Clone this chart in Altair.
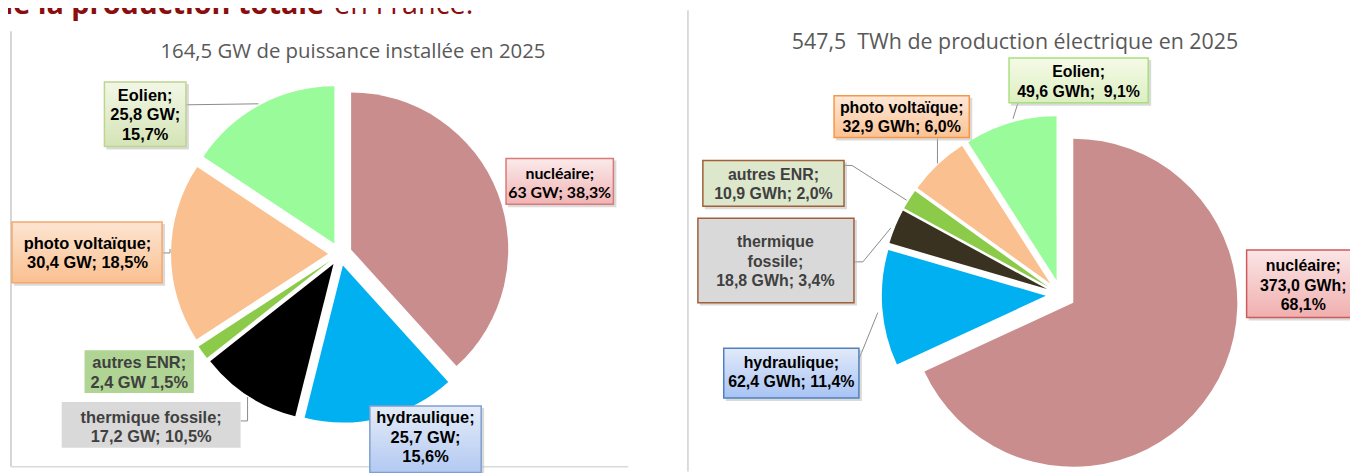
import math
import altair as alt
import pandas as pd

# ---------------- data ----------------
categories = ["nucléaire", "hydraulique", "thermique fossile", "autres ENR", "photo voltaïque", "Eolien"]
power_gw = [63.0, 25.7, 17.2, 2.4, 30.4, 25.8]
energy_twh = [373.0, 62.4, 18.8, 10.9, 32.9, 49.6]

labels_left = [
    "nucléaire;\n63 GW; 38,3%",
    "hydraulique;\n25,7 GW;\n15,6%",
    "thermique fossile;\n17,2 GW; 10,5%",
    "autres ENR;\n2,4 GW 1,5%",
    "photo voltaïque;\n30,4 GW; 18,5%",
    "Eolien;\n25,8 GW;\n15,7%",
]
labels_right = [
    "nucléaire;\n373,0 GWh;\n68,1%",
    "hydraulique;\n62,4 GWh; 11,4%",
    "thermique\nfossile;\n18,8 GWh; 3,4%",
    "autres ENR;\n10,9 GWh; 2,0%",
    "photo voltaïque;\n32,9 GWh; 6,0%",
    "Eolien;\n49,6 GWh;\u00a0 9,1%",
]
title_left = "164,5 GW de puissance installée en 2025"
title_right = "547,5\u00a0 TWh de production électrique en 2025"
heading_bold = "de la production totale"
heading_regular = "en France."

# ---------------- styles / layout ----------------
OX, OY = 8, 8  # page margin
colors_left = ["#CA8D8D", "#00B0F0", "#000000", "#8CCB4A", "#FAC090", "#99FB99"]
colors_right = ["#CA8D8D", "#00B0F0", "#3A3220", "#8CCB4A", "#FAC090", "#99FB99"]

PIE_LEFT = dict(cx=342, cy=254, r=158, d=12)
PIE_RIGHT = dict(cx=1067, cy=295, r=165, d=15)

BOLD_FONT = "Liberation Sans"
LH = 19.5
# box: x0, y0, x1, y1 (page px), text block centre tx, ty, fill stops, stroke, shadow, text colour, font, size
boxes_left = [
    dict(b=(509, 158, 617, 204), t=(563, 183), fill=("#FBEAEA", "#F0B4B4"), stroke="#D87A7A", shadow=True, tc="#000000", font="Lato", size=16),
    dict(b=(372, 407, 484, 474), t=(428, 439), fill=("#E4ECF8", "#B3C9F2"), stroke="#7F9FD0", shadow=True, tc="#000000", font=BOLD_FONT, size=16.5),
    dict(b=(62, 403, 242, 449), t=(152, 428.5), fill=("#D9D9D9", "#D9D9D9"), stroke=None, shadow=False, tc="#404040", font=BOLD_FONT, size=16.5),
    dict(b=(85, 351, 195, 394), t=(140, 374), fill=("#AFD493", "#AFD493"), stroke=None, shadow=False, tc="#404040", font=BOLD_FONT, size=16.5),
    dict(b=(12, 222, 163, 283), t=(88, 253.5), fill=("#FDE5D2", "#FAC090"), stroke="#F5A86A", shadow=True, tc="#000000", font=BOLD_FONT, size=16.5),
    dict(b=(105, 81, 187, 146), t=(146, 114.5), fill=("#F2F7E6", "#D5E4B6"), stroke="#BFD48F", shadow=True, tc="#000000", font=BOLD_FONT, size=16.5),
]
boxes_right = [
    dict(b=(1254, 250, 1372, 318), t=(1311, 286), fill=("#FBE6E6", "#F0AFAF"), stroke="#D05A5A", shadow=True, tc="#000000", font=BOLD_FONT, size=16),
    dict(b=(728, 349, 864, 399), t=(796, 373.5), fill=("#E2EAF9", "#A8C3F4"), stroke="#4F81BD", shadow=True, tc="#000000", font=BOLD_FONT, size=16),
    dict(b=(702, 218, 859, 303), t=(780, 262), fill=("#D9D9D9", "#D9D9D9"), stroke="#A0603A", shadow=True, tc="#404040", font=BOLD_FONT, size=16),
    dict(b=(707, 160, 849, 206), t=(778, 184.5), fill=("#DDE7CB", "#DDE7CB"), stroke="#A0603A", shadow=True, tc="#404040", font=BOLD_FONT, size=16),
    dict(b=(839, 95, 975, 137), t=(907, 117), fill=("#FDE8D8", "#FBC293"), stroke="#F79646", shadow=True, tc="#000000", font=BOLD_FONT, size=16),
    dict(b=(1015, 57, 1155, 102), t=(1085, 81), fill=("#F6FAE8", "#DCEFC0"), stroke="#A8E07E", shadow=True, tc="#000000", font=BOLD_FONT, size=16),
]
leaders = [
    [(187, 104), (260, 103)],
    [(163, 253), (171, 253), (171, 249)],
    [(242, 422), (249, 422), (249, 398)],
    [(1024, 102), (1019, 118)],
    [(943, 137), (943, 163)],
    [(849, 165), (857, 165), (912, 200)],
    [(859, 262), (868, 262), (896, 228)],
    [(864, 360), (883, 313)],
]
frames = [((11, 30), (11, 468), "#C8C8C8"), ((11, 468), (632, 468), "#D6DCD6"), ((692, 9), (692, 473), "#D0D0D0")]

W, H = 1350, 465


def px(v):
    return v - OX


def py(v):
    return v - OY


def pie(values, colors, cx, cy, r, d):
    df = pd.DataFrame({"cat": categories, "val": values, "rank": list(range(len(categories)))})
    return (
        alt.Chart(df)
        .transform_joinaggregate(total="sum(val)")
        .transform_window(cum="sum(val)", sort=[alt.SortField("rank")], frame=[None, 0])
        .transform_calculate(f1="datum.cum / datum.total")
        .transform_calculate(f0="(datum.cum - datum.val) / datum.total")
        .transform_calculate(mid="PI * (datum.f0 + datum.f1)")
        .transform_calculate(cx=f"{px(cx)} + {d} * sin(datum.mid)")
        .transform_calculate(cy=f"{py(cy)} - {d} * cos(datum.mid)")
        .mark_arc(outerRadius=r)
        .encode(
            theta=alt.Theta("f0:Q", scale=alt.Scale(domain=[0, 1], range=[0, 2 * math.pi])),
            theta2="f1:Q",
            x=alt.X("cx:Q", scale=None, axis=None),
            y=alt.Y("cy:Q", scale=None, axis=None),
            color=alt.Color("cat:N", scale=alt.Scale(domain=categories, range=colors), legend=None),
        )
    )


def label_layers(texts, boxes):
    out = []
    for text, bx in zip(texts, boxes):
        x0, y0, x1, y1 = bx["b"]
        if bx["shadow"]:
            sd = pd.DataFrame({"x0": [px(x0) + 2], "x1": [px(x1) + 3], "y0": [py(y0) + 2], "y1": [py(y1) + 3]})
            out.append(
                alt.Chart(sd).mark_rect(fill="#BBBBBB", opacity=0.55).encode(
                    x=alt.X("x0:Q", scale=None, axis=None), x2="x1:Q",
                    y=alt.Y("y0:Q", scale=None, axis=None), y2="y1:Q")
            )
        bd = pd.DataFrame({"x0": [px(x0)], "x1": [px(x1)], "y0": [py(y0)], "y1": [py(y1)]})
        grad = {
            "gradient": "linear", "x1": 0, "y1": 0, "x2": 0, "y2": 1,
            "stops": [{"offset": 0, "color": bx["fill"][0]}, {"offset": 1, "color": bx["fill"][1]}],
        }
        kw = dict(fill=grad)
        if bx["stroke"]:
            kw.update(stroke=bx["stroke"], strokeWidth=1.5)
        out.append(
            alt.Chart(bd).mark_rect(**kw).encode(
                x=alt.X("x0:Q", scale=None, axis=None), x2="x1:Q",
                y=alt.Y("y0:Q", scale=None, axis=None), y2="y1:Q")
        )
        n_lines = text.count("\n") + 1
        first_y = bx["t"][1] - (n_lines - 1) * LH / 2
        td = pd.DataFrame({"tx": [px(bx["t"][0])], "ty": [py(first_y)], "label": [text]})
        out.append(
            alt.Chart(td).mark_text(
                lineBreak="\n", lineHeight=LH, baseline="middle", align="center",
                font=bx["font"], fontSize=bx["size"], fontWeight="bold", color=bx["tc"],
            ).encode(
                x=alt.X("tx:Q", scale=None, axis=None), y=alt.Y("ty:Q", scale=None, axis=None), text="label:N")
        )
    return out


rows = []
for i, seg in enumerate(leaders):
    for j, (a, b) in enumerate(seg):
        rows.append({"seg": i, "k": j, "x": px(a), "y": py(b)})
leader_df = pd.DataFrame(rows)
leader_layer = alt.Chart(leader_df).mark_line(color="#8A8A8A", strokeWidth=1).encode(
    x=alt.X("x:Q", scale=None, axis=None), y=alt.Y("y:Q", scale=None, axis=None),
    detail="seg:N", order="k:Q")

frame_df = pd.DataFrame([
    {"x": px(a[0]), "y": py(a[1]), "x2": px(b[0]), "y2": py(b[1]), "c": c} for a, b, c in frames
])
frame_layer = alt.Chart(frame_df).mark_rule(strokeWidth=1.5).encode(
    x=alt.X("x:Q", scale=None, axis=None), x2="x2:Q",
    y=alt.Y("y:Q", scale=None, axis=None), y2="y2:Q",
    color=alt.Color("c:N", scale=None))

titles_df = pd.DataFrame({
    "label": [title_left, title_right],
    "tx": [px(355), px(1021)],
    "ty": [py(57), py(48)],
    "fs": [20.5, 21.5],
})
titles_layer = alt.Chart(titles_df).mark_text(
    font="Open Sans", color="#595959", baseline="alphabetic", align="center"
).encode(x=alt.X("tx:Q", scale=None, axis=None), y=alt.Y("ty:Q", scale=None, axis=None),
         text="label:N", size=alt.Size("fs:Q", scale=None))

head_b = alt.Chart(pd.DataFrame({"label": [heading_bold], "tx": [px(326)], "ty": [py(13)]})).mark_text(
    font="Open Sans", fontSize=29, fontWeight="bold", color="#8B0E0E", align="right", baseline="alphabetic"
).encode(x=alt.X("tx:Q", scale=None, axis=None), y=alt.Y("ty:Q", scale=None, axis=None), text="label:N")
head_r = alt.Chart(pd.DataFrame({"label": [heading_regular], "tx": [px(336)], "ty": [py(13)]})).mark_text(
    font="Open Sans", fontSize=29, color="#8B0E0E", align="left", baseline="alphabetic"
).encode(x=alt.X("tx:Q", scale=None, axis=None), y=alt.Y("ty:Q", scale=None, axis=None), text="label:N")

layers = [frame_layer, leader_layer,
          pie(power_gw, colors_left, **PIE_LEFT),
          pie(energy_twh, colors_right, **PIE_RIGHT)]
layers += label_layers(labels_left, boxes_left)
layers += label_layers(labels_right, boxes_right)
layers += [titles_layer, head_b, head_r]

chart = (
    alt.layer(*layers)
    .resolve_scale(color="independent")
    .properties(width=W, height=H, padding=0, autosize="none", background="white")
    .configure_view(stroke=None)
)

chart.save("out.html", embed_options={"renderer": "svg", "actions": False})
